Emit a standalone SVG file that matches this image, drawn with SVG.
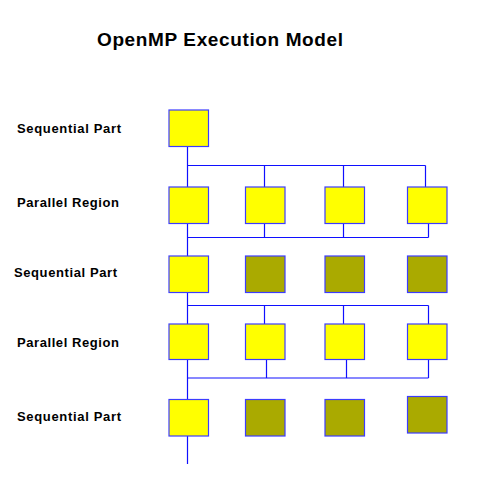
<svg xmlns="http://www.w3.org/2000/svg" width="481" height="480" viewBox="0 0 481 480">
<style>
.bg{fill:#ffffff}
.title{font-family:"Liberation Sans",Arial,sans-serif;font-weight:bold;font-size:19px;fill:#000}
.lbl{font-family:"Liberation Sans",Arial,sans-serif;font-weight:bold;font-size:13px;fill:#000}
.act{fill:#ffff00;stroke:#3c3cff;stroke-width:1.2}
.idle{fill:#aaaa00;stroke:#3c3cff;stroke-width:1.2}
.conn line{stroke:#1010ff;stroke-width:1.2}
</style>
<rect class="bg" x="0" y="0" width="481" height="480"/>
<text id="title" class="title" x="97" y="46" textLength="246" lengthAdjust="spacing">OpenMP Execution Model</text>
<g id="labels">
<text class="lbl" x="17" y="132.5" textLength="104" lengthAdjust="spacing">Sequential Part</text>
<text class="lbl" x="17" y="207" textLength="102" lengthAdjust="spacing">Parallel Region</text>
<text class="lbl" x="14" y="277" textLength="103" lengthAdjust="spacing">Sequential Part</text>
<text class="lbl" x="17" y="347" textLength="102" lengthAdjust="spacing">Parallel Region</text>
<text class="lbl" x="17" y="421" textLength="104" lengthAdjust="spacing">Sequential Part</text>
</g>
<g id="connectors" class="conn">
<line x1="187.5" y1="147" x2="187.5" y2="187"/>
<line x1="187.5" y1="165.5" x2="425.5" y2="165.5"/>
<line x1="264.5" y1="165.5" x2="264.5" y2="187"/>
<line x1="343.5" y1="165.5" x2="343.5" y2="187"/>
<line x1="425.5" y1="165.5" x2="425.5" y2="187"/>
<line x1="187.5" y1="223" x2="187.5" y2="256"/>
<line x1="264.5" y1="223" x2="264.5" y2="237.5"/>
<line x1="343.5" y1="223" x2="343.5" y2="237.5"/>
<line x1="428.5" y1="223" x2="428.5" y2="237.5"/>
<line x1="187.5" y1="237.5" x2="428.5" y2="237.5"/>
<line x1="187.5" y1="293" x2="187.5" y2="324"/>
<line x1="187.5" y1="305.5" x2="428.5" y2="305.5"/>
<line x1="264.5" y1="305.5" x2="264.5" y2="324"/>
<line x1="343.5" y1="305.5" x2="343.5" y2="324"/>
<line x1="428.5" y1="305.5" x2="428.5" y2="324"/>
<line x1="187.5" y1="359.5" x2="187.5" y2="399"/>
<line x1="266.5" y1="359.5" x2="266.5" y2="378"/>
<line x1="346.5" y1="359.5" x2="346.5" y2="378"/>
<line x1="428.5" y1="359.5" x2="428.5" y2="378"/>
<line x1="187.5" y1="378" x2="428.5" y2="378"/>
<line x1="187.5" y1="436" x2="187.5" y2="464"/>
</g>
<g id="seq1"><rect class="act" x="169" y="110" width="39.5" height="36.5"/></g>
<g id="par1">
<rect class="act" x="169" y="187" width="39.5" height="36.5"/>
<rect class="act" x="245.5" y="187" width="39.5" height="36.5"/>
<rect class="act" x="325" y="187" width="39.5" height="36.5"/>
<rect class="act" x="407.5" y="187" width="39.5" height="36.5"/>
</g>
<g id="seq2">
<rect class="act" x="169" y="256" width="39.5" height="36.5"/>
<rect class="idle" x="245.5" y="256" width="39.5" height="36.5"/>
<rect class="idle" x="325" y="256" width="39.5" height="36.5"/>
<rect class="idle" x="407.5" y="256" width="39.5" height="36.5"/>
</g>
<g id="par2">
<rect class="act" x="169" y="324" width="39.5" height="35.5"/>
<rect class="act" x="245.5" y="324" width="39.5" height="35.5"/>
<rect class="act" x="325" y="324" width="39.5" height="35.5"/>
<rect class="act" x="407.5" y="324" width="39.5" height="35.5"/>
</g>
<g id="seq3">
<rect class="act" x="169" y="399.5" width="39.5" height="36.5"/>
<rect class="idle" x="245.5" y="399.5" width="39.5" height="36.5"/>
<rect class="idle" x="325" y="399.5" width="39.5" height="36.5"/>
<rect class="idle" x="407.5" y="396.5" width="39.5" height="36.5"/>
</g>
</svg>
